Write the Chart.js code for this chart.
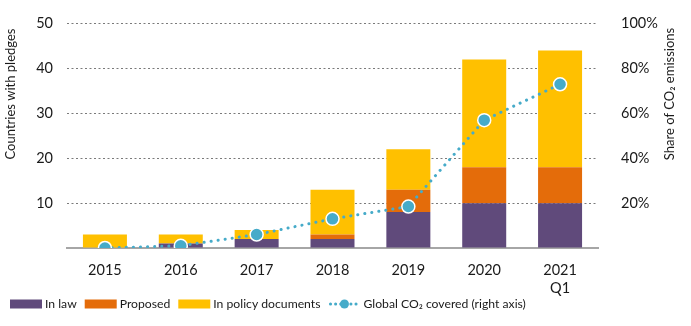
<!DOCTYPE html>
<html>
<head>
<meta charset="utf-8">
<script src="https://cdn.jsdelivr.net/npm/chart.js@4"></script>
<style>
  html, body { margin: 0; padding: 0; background: #fff; }
  #wrap { width: 691px; height: 326px; }
</style>
</head>
<body>
<div id="wrap"><canvas id="myChart" width="691" height="326"></canvas></div>
<script>
// anos e valores
const anos = ['2015', '2016', '2017', '2018', '2019', '2020', ['2021', 'Q1']];
const emLei = [0, 1, 2, 2, 8, 10, 10];
const propostos = [0, 0, 0, 1, 5, 8, 8];
const documentos = [3, 2, 2, 10, 9, 24, 26];
const co2Coberto = [0, 1, 6, 13, 18.5, 57, 73];
const ticksEsq = [0, 10, 20, 30, 40, 50];

const fonte = 'Lato, "Liberation Sans", sans-serif';
const roxo = '#604a7b', laranja = '#e46c0a', amarelo = '#ffc000', azul = '#46abc9';
const texto = '#1a1a1a';

// legenda e titulos dos eixos desenhados no canvas
const extras = {
  id: 'extras',
  afterDraw(chart) {
    const c = chart.ctx;
    c.save();
    // titulos verticais (os dois lidos de baixo para cima)
    c.font = '13px ' + fonte;
    c.fillStyle = texto;
    c.textAlign = 'center';
    c.textBaseline = 'middle';
    [[11, 'Countries with pledges'], [670, 'Share of CO\u2082 emissions']].forEach(([tx, t]) => {
      c.save();
      c.translate(tx, 94);
      c.rotate(-Math.PI / 2);
      c.fillText(t, 0, 0);
      c.restore();
    });

    // legenda
    const y = 304;
    let x = 10;
    c.font = '12.2px ' + fonte;
    c.textAlign = 'left';
    const itens = [['In law', roxo], ['Proposed', laranja], ['In policy documents', amarelo]];
    itens.forEach(([txt, cor]) => {
      c.fillStyle = cor;
      c.fillRect(x, y - 4.5, 32, 9);
      x += 35;
      c.fillStyle = texto;
      c.fillText(txt, x, y);
      x += c.measureText(txt).width + 8;
    });
    // linha pontilhada com bolinha
    c.strokeStyle = azul;
    c.lineWidth = 3;
    c.lineCap = 'round';
    c.setLineDash([0.1, 5]);
    c.beginPath();
    c.moveTo(x + 2, y);
    c.lineTo(x + 30, y);
    c.stroke();
    c.setLineDash([]);
    c.fillStyle = azul;
    c.beginPath();
    c.arc(x + 16, y, 4.5, 0, Math.PI * 2);
    c.fill();
    x += 35;
    c.fillStyle = texto;
    c.fillText('Global CO\u2082 covered (right axis)', x, y);
    c.restore();
  }
};

const ctx = document.getElementById('myChart');

const data = {
  labels: anos,
  datasets: [
    {
      type: 'line',
      label: 'Global CO\u2082 covered (right axis)',
      data: co2Coberto,
      yAxisID: 'y1',
      borderColor: azul,
      borderWidth: 3,
      borderDash: [0.1, 7],
      borderCapStyle: 'round',
      tension: 0,
      pointRadius: 6.5,
      pointBackgroundColor: azul,
      pointBorderColor: '#fff',
      pointBorderWidth: 1.5,
      order: 0
    },
    { label: 'In law', data: emLei, backgroundColor: roxo, yAxisID: 'y', order: 1 },
    { label: 'Proposed', data: propostos, backgroundColor: laranja, yAxisID: 'y', order: 1 },
    { label: 'In policy documents', data: documentos, backgroundColor: amarelo, yAxisID: 'y', order: 1 }
  ]
};

const config = {
  type: 'bar',
  data,
  plugins: [extras],
  options: {
    responsive: false,
    animation: false,
    layout: { padding: { top: 12, right: 0, left: 0, bottom: 0 } },
    datasets: { bar: { categoryPercentage: 1, barPercentage: 0.58 } },
    plugins: { legend: { display: false }, tooltip: { enabled: false } },
    scales: {
      x: {
        stacked: true,
        grid: { display: false },
        border: { color: '#a6a6a6', width: 2 },
        ticks: { color: texto, font: { family: fonte, size: 14.5 }, padding: 6, maxRotation: 0 },
        afterFit(s) { s.height = 78; }
      },
      y: {
        stacked: true,
        position: 'left',
        min: 0, max: 50,
        afterBuildTicks(s) { s.ticks = ticksEsq.map(v => ({ value: v })); },
        ticks: {
          color: texto, font: { family: fonte, size: 14.5 }, padding: 14,
          callback: v => v === 0 ? '' : v
        },
        grid: { color: '#7a7a7a', lineWidth: 1, drawTicks: false },
        border: { display: false, dash: [2, 2.5] },
        afterFit(s) { s.width = 67; }
      },
      y1: {
        position: 'right',
        min: 0, max: 100,
        ticks: {
          stepSize: 20, color: texto, font: { family: fonte, size: 14.5 }, padding: 15,
          callback: v => v === 0 ? '' : v + '%'
        },
        grid: { display: false },
        border: { display: false },
        afterFit(s) { s.width = 93; }
      }
    }
  }
};

const Mychart = new Chart(ctx, config);
</script>
</body>
</html>
